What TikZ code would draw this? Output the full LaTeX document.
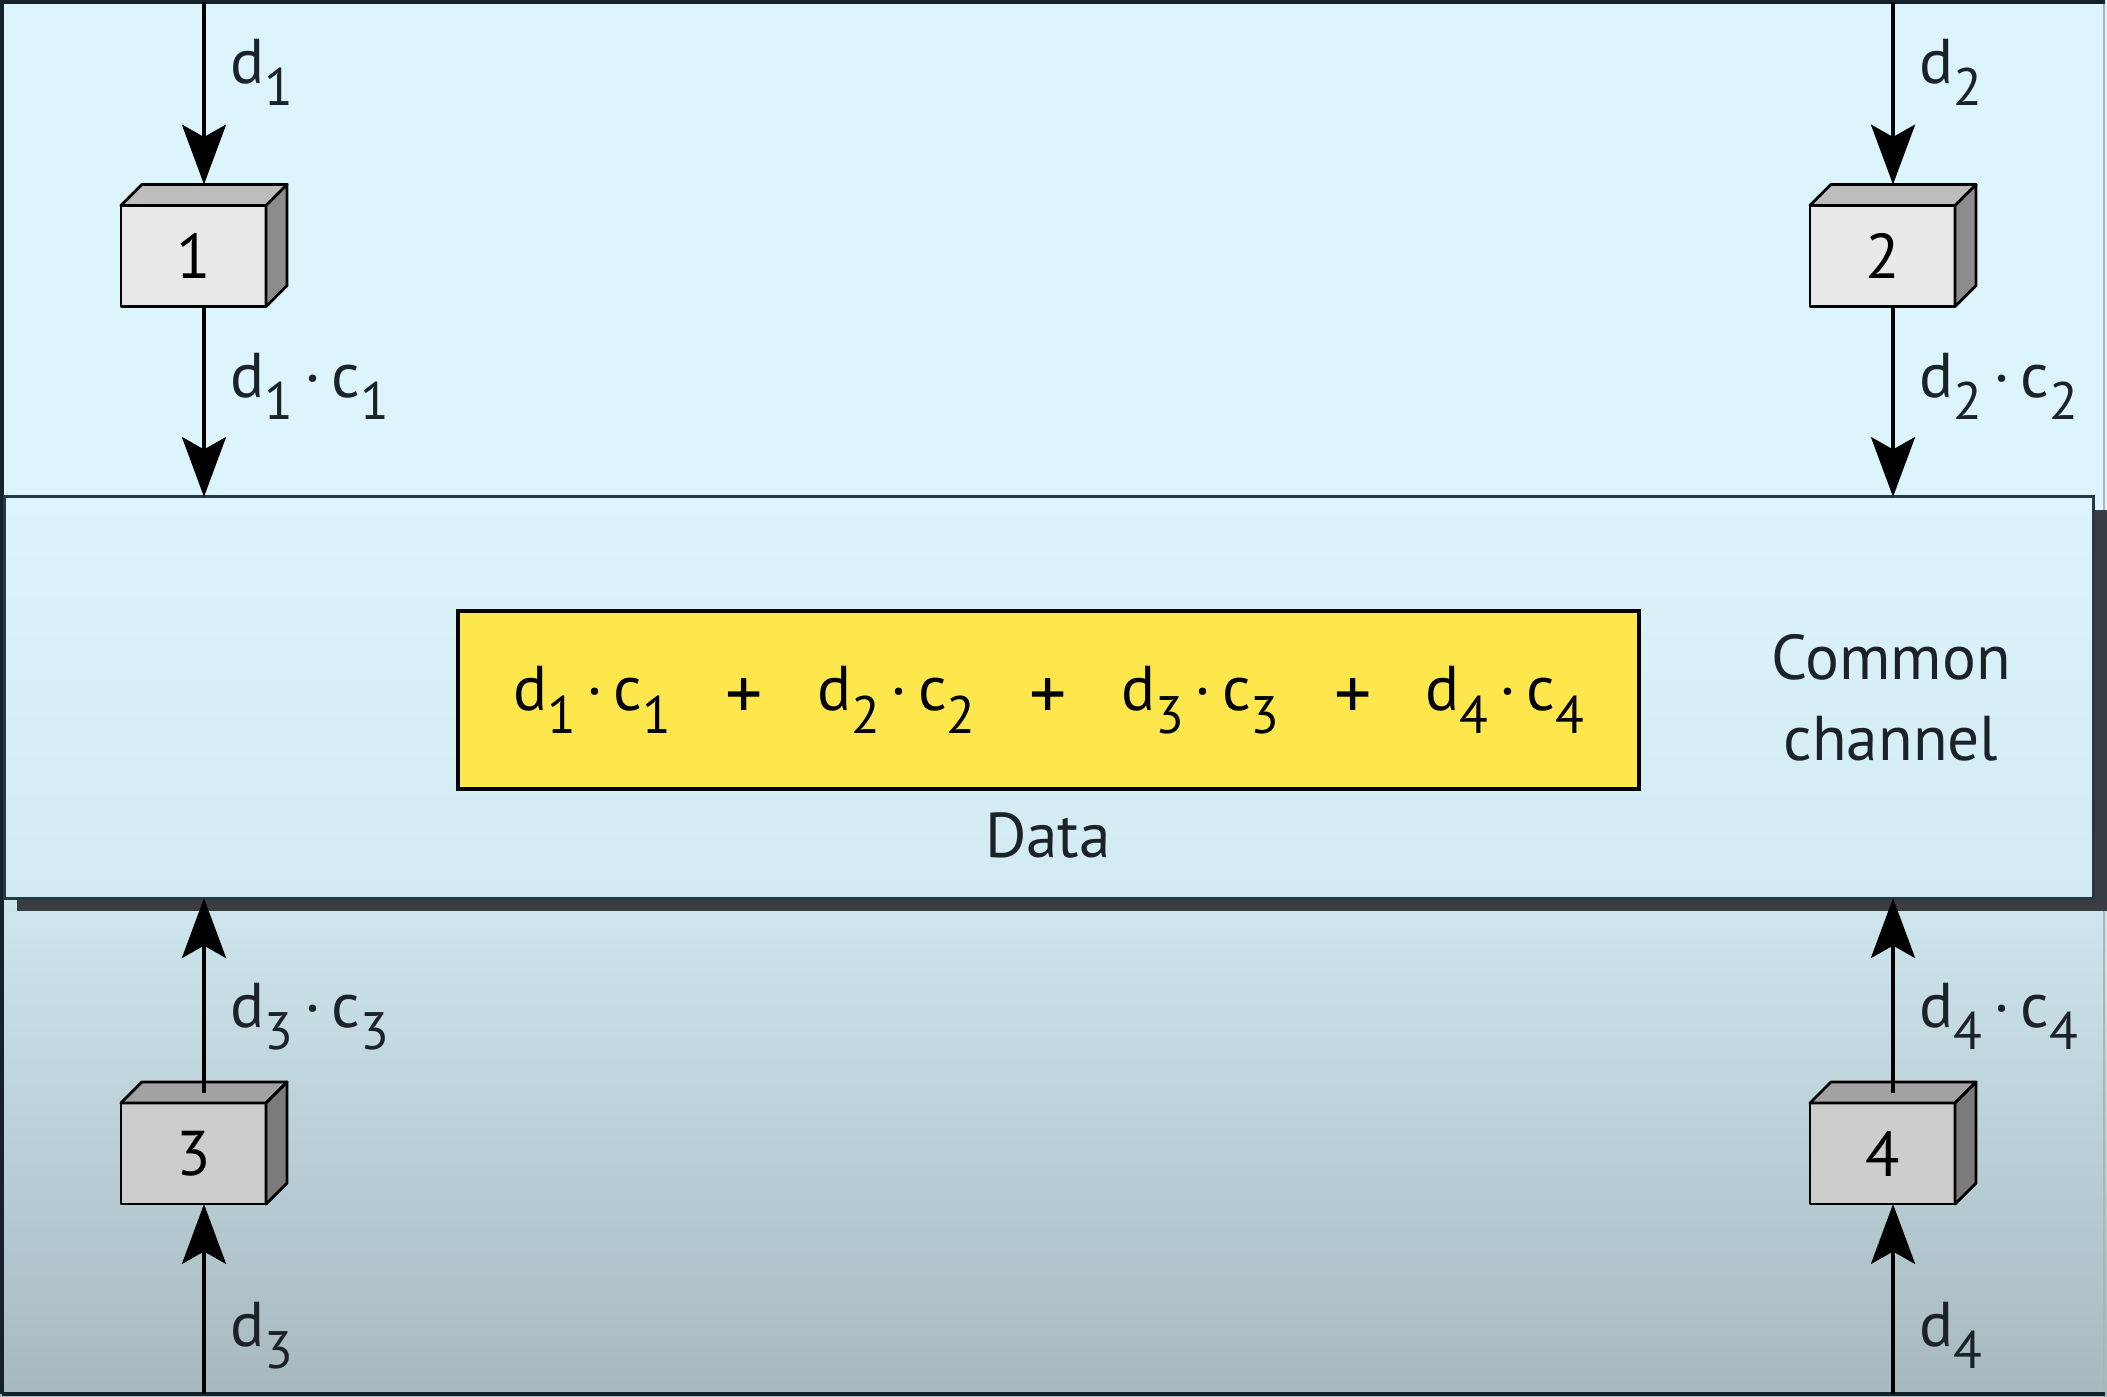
\documentclass[tikz,border=0pt]{standalone}
\usepackage{fontspec}
\setmainfont{PT Sans}
\usetikzlibrary{arrows.meta,calc,shadows}

\definecolor{bgtop}{HTML}{DCF5FC}
\definecolor{bgmid}{HTML}{CCE4EB}
\definecolor{bgbot}{HTML}{A6B9BF}
\definecolor{chantop}{HTML}{DCF5FC}
\definecolor{chanbot}{HTML}{D2EBF2}
\definecolor{chanline}{HTML}{223A44}
\definecolor{shadowgray}{HTML}{3A3E42}
\definecolor{framecol}{HTML}{14232A}
\definecolor{datafill}{HTML}{FDE74C}
\definecolor{txt}{HTML}{1C2328}
\definecolor{cubefrontL}{HTML}{E9E8EA}
\definecolor{cubetopL}{HTML}{BDBDBD}
\definecolor{cubesideL}{HTML}{8C8C8C}
\definecolor{cubefrontD}{HTML}{CDCDCD}
\definecolor{cubetopD}{HTML}{A2A2A2}
\definecolor{cubesideD}{HTML}{7B7B7B}

\pgfdeclareverticalshading{bgfade}{100bp}{color(0bp)=(bgbot); color(25bp)=(bgbot);
  color(42bp)=(bgmid); color(56bp)=(bgtop); color(100bp)=(bgtop)}

\newcommand{\lowsub}[1]{\raisebox{-6.5pt}{\fontsize{15}{15}\selectfont #1}}
\newcommand{\dsub}[1]{d\lowsub{#1}}
\newcommand{\dcsub}[1]{d\lowsub{#1}\,\textperiodcentered\,c\lowsub{#1}}
\newcommand{\plussep}{\hspace{0.86em}\raisebox{-2.5pt}{\fontsize{21}{21}\selectfont+}\hspace{0.86em}}
% top and side faces of a station box
\newcommand{\cubefaces}[3]{%
  \filldraw[cubeedge,fill=#2] (#1.north west) -- ++(21,-21) -- ($(#1.north east)+(21,-21)$) -- (#1.north east) -- cycle;
  \filldraw[cubeedge,fill=#3] (#1.north east) -- ++(21,-21) -- ($(#1.south east)+(21,-21)$) -- (#1.south east) -- cycle;}

\begin{document}
\begin{tikzpicture}[x=0.01cm,y=-0.01cm,
  font=\fontsize{18}{23}\selectfont, text=txt,
  arr/.style={line width=1.2pt,-{Stealth[length=17pt,width=12.5pt,inset=3.5pt]}},
  frameline/.style={line width=1.1pt,draw=framecol},
  chanbox/.style={draw=chanline,line width=0.9pt,top color=chantop,bottom color=chanbot,
    minimum width=20.88cm,minimum height=4.01cm,inner sep=0pt,outer sep=0pt,
    drop shadow={shadow xshift=0.13cm,shadow yshift=-0.13cm,fill=shadowgray,opacity=1}},
  databox/.style={draw=black,line width=1.1pt,fill=datafill,text=black,
    minimum width=11.81cm,minimum height=1.78cm,inner sep=0pt,outer sep=0pt},
  cubebox/.style={draw=black,line width=0.8pt,fill=#1,text=black,line join=round,
    minimum width=1.45cm,minimum height=1.01cm,inner sep=0pt,outer sep=0pt},
  cubeedge/.style={draw=black,line width=0.8pt,line join=round},
  lbl/.style={anchor=base west,inner sep=0pt}]

\useasboundingbox (0,0) rectangle (2107,1396);
\fill[shading=bgfade] (0,0) rectangle (2107,1396);
\draw[frameline] (2,1394) -- (2,2) -- (2105,2);
\draw[frameline] (2,1394) -- (2105,1394);
\draw[line width=0.5pt,gray!60] (2104,4) -- (2104,1392);

% common channel
\node[chanbox] (chan) at (1049,697.5) {};
\node[databox] (data) at (1048.5,700)
  {\dcsub{1}\plussep\dcsub{2}\plussep\dcsub{3}\plussep\dcsub{4}};
\node[anchor=base] (datalbl) at (1048,857) {Data};
\node[align=center] (chanlbl) at (1891,698) {Common\\channel};

% stations
\node[cubebox=cubefrontL] (b1) at (193.5,256) {1};
\node[cubebox=cubefrontL] (b2) at (1882.5,256) {2};
\node[cubebox=cubefrontD] (b3) at (193.5,1153.5) {3};
\node[cubebox=cubefrontD] (b4) at (1882.5,1153.5) {4};
\cubefaces{b1}{cubetopL}{cubesideL}
\cubefaces{b2}{cubetopL}{cubesideL}
\cubefaces{b3}{cubetopD}{cubesideD}
\cubefaces{b4}{cubetopD}{cubesideD}

\coordinate (in1) at (204,2);
\coordinate (in2) at (1893,2);
\coordinate (in3) at (204,1394);
\coordinate (in4) at (1893,1394);

\draw[arr] (in1) -- ($(b1.north)+(10.5,-21)$);
\draw[arr] ($(b1.south)+(10.5,0)$) -- (chan.north -| in1);
\draw[arr] (in2) -- ($(b2.north)+(10.5,-21)$);
\draw[arr] ($(b2.south)+(10.5,0)$) -- (chan.north -| in2);
\draw[arr] (in3) -- (b3.south -| in3);
\draw[arr] ($(b3.north)+(10.5,-10.5)$) -- (chan.south -| in3);
\draw[arr] (in4) -- (b4.south -| in4);
\draw[arr] ($(b4.north)+(10.5,-10.5)$) -- (chan.south -| in4);

\node[lbl] (l1) at (230,83) {\dsub{1}};
\node[lbl] (l1c) at (230,397) {\dcsub{1}};
\node[lbl] (l2) at (1919,83) {\dsub{2}};
\node[lbl] (l2c) at (1919,397) {\dcsub{2}};
\node[lbl] (l3c) at (230,1027) {\dcsub{3}};
\node[lbl] (l3) at (230,1346) {\dsub{3}};
\node[lbl] (l4c) at (1919,1027) {\dcsub{4}};
\node[lbl] (l4) at (1919,1346) {\dsub{4}};
\end{tikzpicture}
\end{document}
